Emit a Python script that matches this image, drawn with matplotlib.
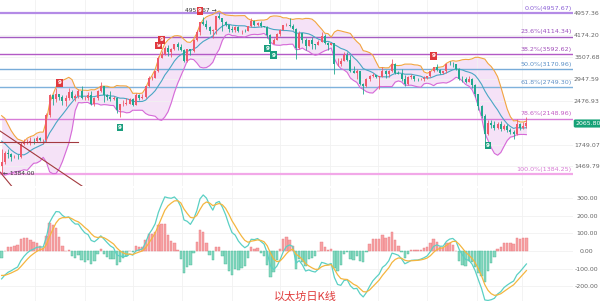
import numpy as np
import pandas as pd
import matplotlib
matplotlib.use("Agg")
import matplotlib.pyplot as plt
import matplotlib.transforms as mtransforms
from matplotlib.ticker import NullLocator

# ETH, 2-day candles from 9 Apr 2025
close = [1520, 1640, 1620, 1580, 1590, 1580, 1760, 1770, 1790, 1800,
         1795, 1840, 1810, 1810, 2210, 2580, 2500, 2610, 2540, 2470,
         2530, 2660, 2530, 2570, 2680, 2530, 2530, 2590, 2420, 2530,
         2680, 2770, 2580, 2540, 2510, 2520, 2290, 2410, 2420, 2420,
         2500, 2400, 2590, 2520, 2540, 2770, 2960, 2970, 3130, 3480,
         3590, 3760, 3630, 3720, 3870, 3790, 3700, 3400, 3720, 3680,
         4010, 4260, 4600, 4550, 4420, 4310, 4340, 4830, 4780, 4600,
         4510, 4370, 4320, 4450, 4300, 4310, 4300, 4460, 4670, 4520,
         4590, 4470, 4450, 4170, 3870, 4010, 4210, 4350, 4510, 4520,
         4460, 4370, 3750, 4240, 3990, 3830, 3990, 3880, 3850, 3950,
         4120, 3900, 3850, 3900, 3300, 3320, 3400, 3560, 3420, 3120,
         3090, 3120, 2830, 2770, 2950, 3020, 3030, 2990, 2990, 3140,
         3050, 3130, 3320, 3090, 3060, 2940, 2820, 2980, 3000, 2950,
         2930, 2950, 2970, 3000, 3120, 3220, 3160, 3080, 3120, 3320,
         3310, 3300, 3190, 2950, 2930, 2880, 2950, 2800, 2600, 2370,
         2200, 1900, 2080, 2040, 2000, 2060, 1980, 2020, 1960, 1930,
         1900, 2050, 1990, 2030, 2065.8]
high = [1690, 1660, 1690, 1640, 1610, 1620, 1790, 1830, 1820, 1860,
        1840, 1870, 1850, 1830, 2240, 2600, 2600, 2740, 2620, 2590,
        2580, 2730, 2700, 2600, 2720, 2790, 2560, 2660, 2680, 2540,
        2700, 2880, 2770, 2600, 2680, 2560, 2540, 2420, 2480, 2520,
        2520, 2520, 2640, 2600, 2620, 2790, 3020, 3000, 3140, 3520,
        3680, 3810, 3860, 3760, 3880, 3940, 3880, 3720, 3740, 3730,
        4030, 4330, 4630, 4790, 4700, 4490, 4370, 4860, 4957, 4780,
        4640, 4520, 4490, 4480, 4480, 4330, 4380, 4480, 4770, 4690,
        4610, 4640, 4480, 4460, 4190, 4060, 4240, 4360, 4520, 4590,
        4760, 4540, 4390, 4290, 4220, 4070, 4010, 4100, 3890, 3990,
        4250, 4200, 3950, 3920, 3910, 3470, 3480, 3650, 3640, 3550,
        3250, 3190, 3130, 2840, 2970, 3040, 3070, 3030, 3000, 3230,
        3160, 3160, 3440, 3330, 3140, 3180, 3030, 3000, 3050, 3020,
        2970, 2960, 3010, 3010, 3140, 3240, 3300, 3170, 3140, 3330,
        3400, 3360, 3320, 3200, 3000, 2990, 3010, 2960, 2820, 2620,
        2400, 2230, 2120, 2130, 2100, 2090, 2100, 2060, 2050, 2000,
        1960, 2140, 2080, 2090, 2170]
low = [1385, 1500, 1570, 1540, 1570, 1560, 1570, 1740, 1750, 1740,
       1750, 1790, 1800, 1760, 1780, 2170, 2400, 2440, 2480, 2400,
       2380, 2490, 2500, 2460, 2530, 2500, 2480, 2480, 2390, 2380,
       2480, 2660, 2440, 2490, 2470, 2480, 2240, 2180, 2380, 2390,
       2420, 2380, 2390, 2480, 2500, 2520, 2760, 2920, 2960, 3100,
       3460, 3560, 3540, 3510, 3690, 3700, 3680, 3370, 3360, 3560,
       3650, 3980, 4150, 4500, 4360, 4210, 4070, 4210, 4720, 4310,
       4480, 4270, 4260, 4260, 4280, 4200, 4270, 4290, 4440, 4480,
       4460, 4450, 4440, 4080, 3830, 3870, 3990, 4120, 4340, 4470,
       4450, 4320, 3435, 3720, 3900, 3700, 3830, 3720, 3720, 3850,
       3930, 3880, 3700, 3840, 3060, 3250, 3250, 3380, 3400, 3100,
       3080, 2950, 2800, 2620, 2760, 2900, 2990, 2970, 2720, 2980,
       2960, 2980, 3100, 3060, 3060, 2890, 2780, 2800, 2950, 2900,
       2890, 2920, 2900, 2950, 2990, 3100, 3140, 3050, 3060, 3070,
       3280, 3230, 3150, 2920, 2860, 2850, 2870, 2740, 2550, 2300,
       2150, 1750, 1890, 1990, 1960, 1970, 1950, 1960, 1930, 1900,
       1820, 1880, 1960, 1980, 2000]
# closes before the visible window, only used to warm up the indicators
pre_close = [3310, 3330, 3340, 3310, 3180, 3120, 3300, 2880, 2730, 2690,
             2630, 2660, 2730, 2720, 2660, 2670, 2740, 2760, 2510, 2330,
             2240, 2520, 2170, 2140, 2200, 1860, 1910, 1910, 1890, 1930,
             1980, 1980, 2080, 2010, 1900, 1820, 1800, 1810, 1580, 1470]

fib_pct = ["0.0%", "23.6%", "38.2%", "50.0%", "61.8%", "78.6%", "100.0%"]
fib_price = [4957.67, 4114.34, 3592.62, 3170.96, 2749.30, 2148.96, 1384.25]
fib_line = ["#b48be6", "#a45cc2", "#b35ac6", "#78acd9", "#7fb2dc", "#d77cd8", "#f2a8e8"]
fib_text = ["#8a5fd6", "#9a4fbe", "#a24fba", "#5a8fc6", "#5f90c6", "#c25ac4", "#d77ad4"]
price_ticks = [4957.36, 4174.20, 3507.68, 2947.59, 2476.93, 1749.07, 1469.79]
macd_ticks = [300, 200, 100, 0, -100, -200]
last_price = 2065.80

# TD "9" marks: candle index, side, text
sig_idx = [18, 37, 49, 50, 62, 83, 85, 135, 152]
sig_side = ["up", "dn", "up", "up", "up", "dn", "dn", "up", "dn"]
sig_text = ["9", "9", "9", "9", "9", "9", "9", "9", "9"]

# month starts, in candle units
month_pos = [10.5, 26, 41, 56.5, 72, 87, 102.5, 117.5, 133, 148.5, 162.5]

# hand drawn trend lines (candle index, price)
tl_flat = ([-0.5, 23.9], [1780, 1780])
tl_down1 = ([-0.5, 26.0], [1947, 1240])
tl_down2 = ([-0.5, 3.6], [1407, 1240])

UP = "#ef5b6b"
DN = "#22a88f"

n = len(close)
x = np.arange(n)
opn = [pre_close[-1]] + close[:-1]

full = pd.Series(pre_close + close, dtype=float)
k = len(pre_close)
ma = full.rolling(10).mean()
sd = full.rolling(10).std(ddof=0)
bb_up = (ma + 2 * sd).values[k:]
bb_dn = (ma - 2 * sd).values[k:]
bb_mid = ma.values[k:]

a_fast = 1 - (11 / 13) ** 2
a_slow = 1 - (25 / 27) ** 2
a_sig = 1 - (8 / 10) ** 2
dif = full.ewm(alpha=a_fast, adjust=False).mean() - full.ewm(alpha=a_slow, adjust=False).mean()
dea = dif.ewm(alpha=a_sig, adjust=False).mean()
hist = (2 * (dif - dea)).values[k:]
dif = dif.values[k:]
dea = dea.values[k:]

fig = plt.figure(figsize=(6, 3.01), dpi=100)
ax = fig.add_axes([0, 1 - 186 / 301, 573 / 600, 186 / 301])
ax2 = fig.add_axes([0, 0, 573 / 600, 113 / 301], sharex=ax)

ax.set_yscale("log")
ax.set_xlim(-0.5, 178.56)
ax.set_ylim(1259, 5496)

#bollinger
ax.fill_between(x, bb_dn, bb_up, color="#f5e2f7", lw=0, zorder=1)
ax.plot(x, bb_up, color="#f2a540", lw=0.8, zorder=3)
ax.plot(x, bb_dn, color="#d66ad8", lw=0.8, zorder=3)
ax.plot(x, bb_mid, color="#4aa6c4", lw=0.8, zorder=3)

#fibonacci
for p, lab, lc, tc in zip(fib_price, fib_pct, fib_line, fib_text):
    lw = 1.6 if lab in ("0.0%", "100.0%") else 1.0
    ax.axhline(p, color=lc, lw=lw, zorder=2)
    ax.annotate("%s(%.2f)" % (lab, p), xy=(1, p), xycoords=("axes fraction", "data"),
                xytext=(-1, 1.5), textcoords="offset points", ha="right", va="bottom",
                fontsize=4.6, color=tc)

#candles
col = [UP if c >= o else DN for o, c in zip(opn, close)]
ax.vlines(x, low, high, color=col, lw=0.6, zorder=4)
body = [max(abs(c - o), c * 0.003) for o, c in zip(opn, close)]
ax.bar(x, body, bottom=np.minimum(opn, close), width=0.62, color=col, lw=0, zorder=5)

for lx, ly in (tl_flat, tl_down1, tl_down2):
    ax.plot(lx, ly, color="#a33a3f", lw=0.8, zorder=6)

for i, side, t in zip(sig_idx, sig_side, sig_text):
    if side == "up":
        ax.annotate(t, xy=(i, high[i]), xytext=(0, 6), textcoords="offset points",
                    ha="center", va="bottom", fontsize=4, color="white", fontweight="bold",
                    bbox=dict(boxstyle="square,pad=0.25", fc="#e0383e", ec="none"), zorder=7)
    else:
        ax.annotate(t, xy=(i, low[i]), xytext=(0, -6), textcoords="offset points",
                    ha="center", va="top", fontsize=4, color="white", fontweight="bold",
                    bbox=dict(boxstyle="square,pad=0.25", fc="#1a9e7e", ec="none"), zorder=7)

ax.annotate("\u2190 1384.00", xy=(0, low[0]), xytext=(1, 0), textcoords="offset points",
            ha="left", va="center", fontsize=4.3, color="#333333", zorder=7)
ax.annotate("4957.67 \u2192", xy=(68, high[68]), xytext=(-2, 2), textcoords="offset points",
            ha="right", va="center", fontsize=4.3, color="#333333", zorder=6)

ax.yaxis.tick_right()
ax.set_yticks(price_ticks)
ax.set_yticklabels(["%.2f" % v for v in price_ticks])
ax.yaxis.set_minor_locator(NullLocator())
ax.set_xticks(month_pos)
ax.tick_params(axis="y", length=0, labelsize=4.5, labelcolor="#666666", pad=10.0)
ax.tick_params(axis="x", length=0, labelbottom=False)
for lbl in ax.get_yticklabels():
    lbl.set_horizontalalignment("center")
ax.grid(True, color="#f1f1f1", lw=0.6, zorder=0)
for s in ax.spines.values():
    s.set_visible(False)

tr = mtransforms.blended_transform_factory(ax.transAxes, ax.transData)
ax.text(1.004, last_price, "2065.80", transform=tr, ha="left", va="center",
        fontsize=4.5, color="white", clip_on=False,
        bbox=dict(boxstyle="round,pad=0.25", fc="#16a277", ec="none"))

#macd
hcol = ["#f7a2a4" if h >= 0 else "#86d8c0" for h in hist]
hedge = ["#e87a80" if h >= 0 else "#45b898" for h in hist]
ax2.bar(x, hist, width=0.7, color=hcol, edgecolor=hedge, lw=0.3, zorder=2)
ax2.plot(x, dif, color="#5bd0c4", lw=0.9, zorder=3)
ax2.plot(x, dea, color="#f4b640", lw=0.9, zorder=3)
ax2.set_ylim(-282, 356)
ax2.yaxis.tick_right()
ax2.set_yticks(macd_ticks)
ax2.set_yticklabels(["%.2f" % v for v in macd_ticks])
ax2.tick_params(axis="y", length=0, labelsize=4.5, labelcolor="#666666", pad=10.0)
ax2.tick_params(axis="x", length=0, labelbottom=False)
for lbl in ax2.get_yticklabels():
    lbl.set_horizontalalignment("center")
ax2.grid(True, color="#f1f1f1", lw=0.6, zorder=0)
for s in ax2.spines.values():
    s.set_visible(False)

fig.text(305 / 600, 1 - 296 / 301, "以太坊日K线", ha="center", va="center", fontsize=8,
         color="#e03a3a", family=["Noto Sans CJK SC", "DejaVu Sans"])

fig.savefig("out.png", dpi=100)
